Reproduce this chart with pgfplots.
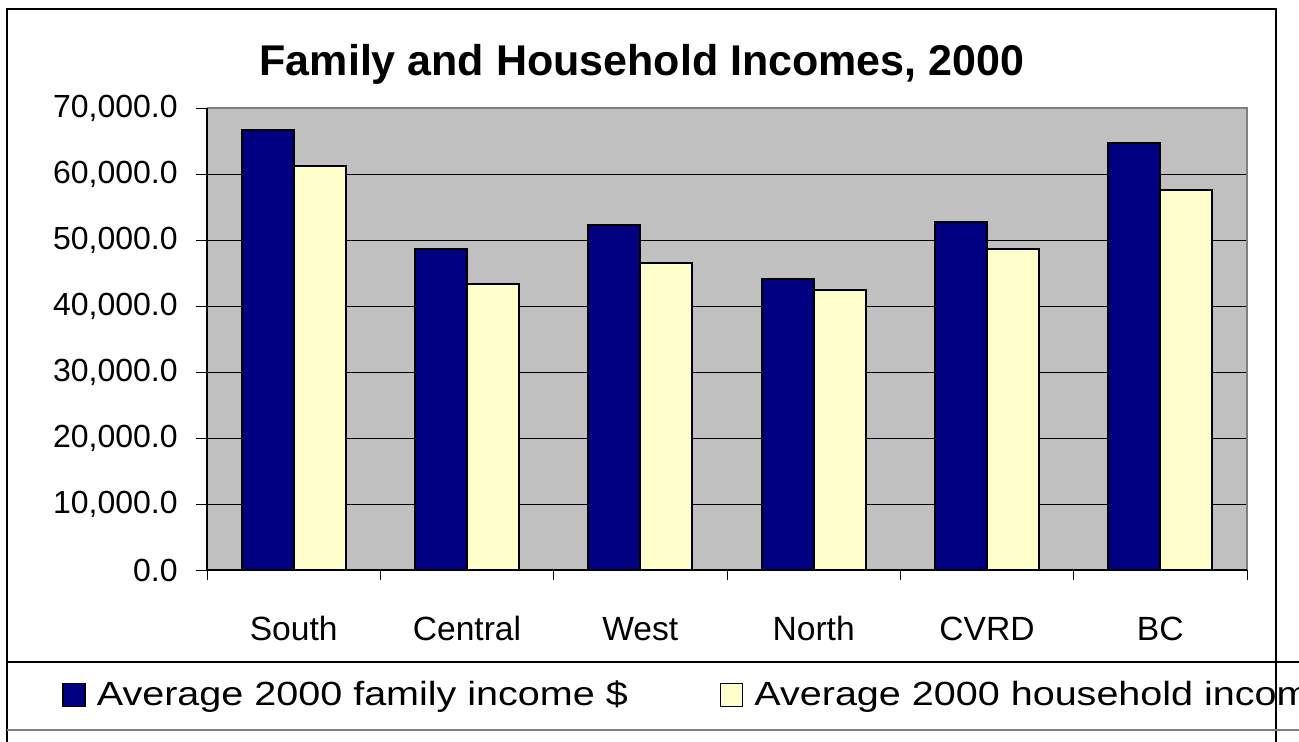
\documentclass[border=0pt]{standalone}
\usepackage{fontspec}
\setmainfont{Liberation Sans}
\newfontfamily\legendfont[FakeStretch=1.18]{Liberation Sans}
\usepackage{pgfplots}
\pgfplotsset{compat=1.18}
\definecolor{navybar}{HTML}{000080}
\definecolor{creambar}{HTML}{FFFFCC}
\definecolor{plotgray}{HTML}{C0C0C0}
\definecolor{framegray}{HTML}{808080}

\begin{document}
\begin{tikzpicture}
\useasboundingbox (0,0) rectangle (649.5pt,-370.5pt);
\clip (0,0) rectangle (649.5pt,-370.5pt);
% chart frame, 1 unit = 1 px of the reference
\begin{scope}[x=0.5pt,y=-0.5pt]
  \fill[white] (0,0) rectangle (1299,741);
  \draw[line width=1pt] (7,760) -- (7,9) -- (1276,9) -- (1276,760);
  \draw[line width=0.8pt] (7,662) -- (1299,662);
  \draw[line width=0.8pt, framegray] (7,730) -- (1299,730);
  \node[anchor=base, font=\fontsize{21.5}{25}\selectfont\bfseries, inner sep=0pt]
    at (642,75) {Family and Household Incomes, 2000};
\end{scope}

\begin{axis}[
  at={(103.5pt,-285pt)}, anchor=south west,
  scale only axis, width=520pt, height=231pt,
  xmin=0.5, xmax=6.5, ymin=0, ymax=70000,
  ybar=0pt, bar width=0.3,
  axis background/.style={fill=plotgray},
  axis line style={draw=none},
  ymajorgrids, grid style={black, line width=0.5pt},
  ytick distance=10000,
  tick align=outside, tick pos=left,
  major tick length=5.5pt, minor tick length=5pt,
  tick style={black, line width=0.5pt},
  xtick={1,2,3,4,5,6},
  xticklabels={South,Central,West,North,CVRD,BC},
  major x tick style={draw=none},
  minor xtick={0.5,1.5,2.5,3.5,4.5,5.5,6.5},
  xticklabel style={anchor=base, yshift=-29.5pt, font=\fontsize{16.8}{20}\selectfont},
  yticklabel style={anchor=east, inner sep=0pt, xshift=-9pt, font=\fontsize{16}{19}\selectfont},
  scaled y ticks=false,
  /pgf/number format/.cd, fixed, fixed zerofill, precision=1, 1000 sep={,}, assume math mode=true,
  /pgfplots/.cd,
  legend columns=2,
  legend image code/.code={\draw[#1, line width=0.75pt] (0pt,-5.75pt) rectangle (11pt,5.75pt);},
  legend style={draw=none, fill=none, inner sep=0pt, at={(-0.1394,-0.2706)}, anchor=west,
    font=\legendfont\fontsize{16.75}{20}\selectfont, nodes={inner sep=0pt},
    /tikz/every odd column/.append style={column sep=5.5pt},
    /tikz/every even column/.append style={column sep=46pt}},
  legend cell align=left,
  after end axis/.code={
    \draw[framegray, line width=1pt] (rel axis cs:0,1) -- (rel axis cs:1,1) -- (rel axis cs:1,0);
    \draw[black, line width=0.8pt] (rel axis cs:0,1) -- (rel axis cs:0,0) -- (rel axis cs:1,0);
  },
]
\addplot[fill=navybar, draw=black, line width=0.9pt] coordinates {
  (1,66670) (2,48590) (3,52270) (4,44050) (5,52680) (6,64650)
};
\addplot[fill=creambar, draw=black, line width=0.9pt] coordinates {
  (1,61260) (2,43290) (3,46470) (4,42420) (5,48590) (6,57580)
};
\legend{Average 2000 family income \$, Average 2000 household income \$}
\end{axis}
\end{tikzpicture}
\end{document}
